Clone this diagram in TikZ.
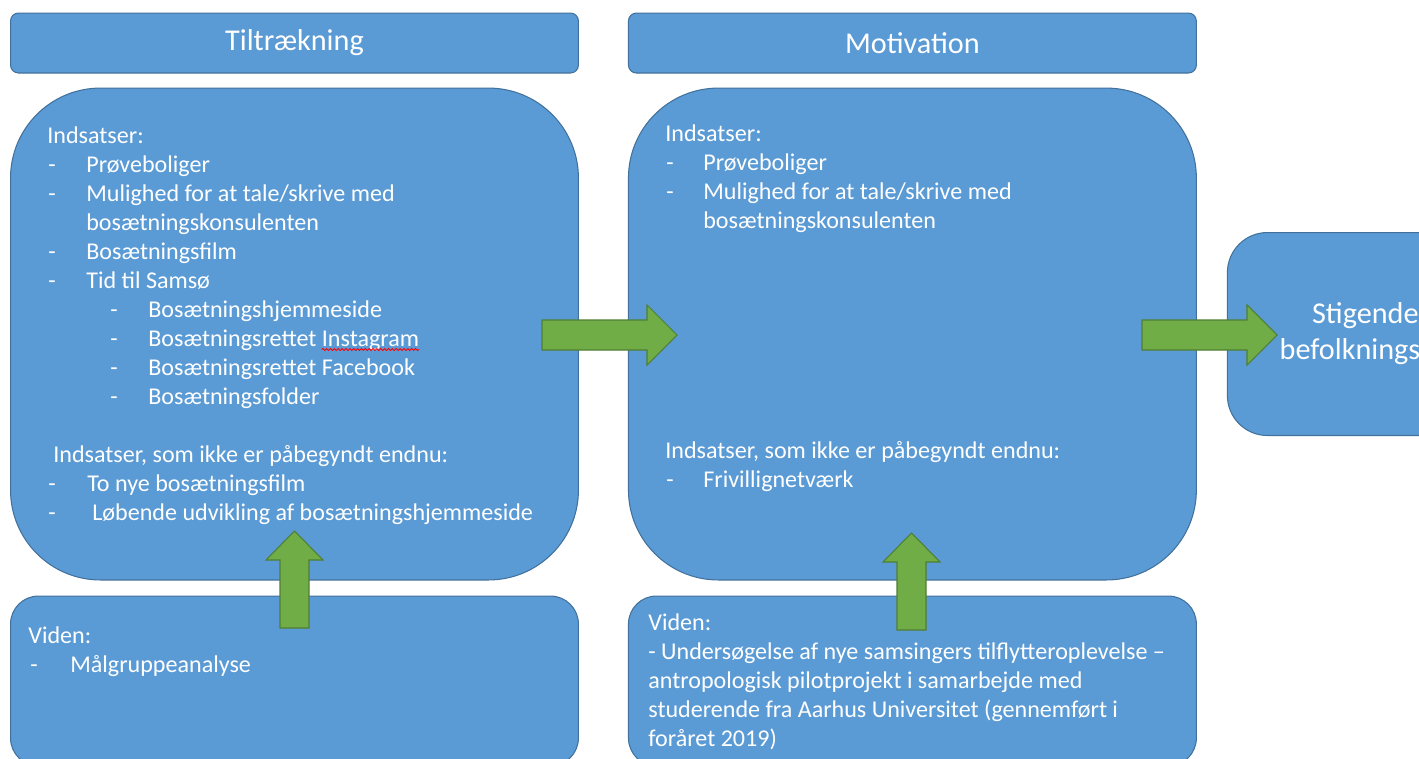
\documentclass[tikz,border=0pt]{standalone}
\usepackage{fontspec}
\setmainfont{Carlito}
\usetikzlibrary{positioning, decorations.pathmorphing}

\definecolor{boxblue}{HTML}{5B9BD5}
\definecolor{boxedge}{HTML}{41719C}
\definecolor{arrowgreen}{HTML}{70AD47}
\definecolor{arrowedge}{HTML}{507E32}

\begin{document}
\begin{tikzpicture}[x=0.02cm, y=-0.02cm,
    box/.style={draw=boxedge, fill=boxblue, line width=0.6pt, text=white, inner sep=0pt},
    headbox/.style={box, rounded corners=0.16cm, minimum width=11.36cm, minimum height=1.2cm, font=\fontsize{17.2}{20.4}\selectfont},
    bigbox/.style={box, rounded corners=1.8cm, minimum width=11.36cm, minimum height=9.84cm},
    infobox/.style={box, rounded corners=0.56cm, minimum width=11.36cm, minimum height=3.4cm},
    txt/.style={anchor=base west, inner sep=0pt, text=white, font=\fontsize{13.7}{16.4}\selectfont},
    blockarrow/.style={draw=arrowedge, fill=arrowgreen, line width=0.6pt}]

    \useasboundingbox (0,0) rectangle (1419,758);
    \clip (0,0) rectangle (1419,758);
    \fill[white] (0,0) rectangle (1419,758);

    % columns
    \node[headbox, anchor=north west] (tilt) at (10,12.5) {Tiltrækning};
    \node[bigbox, below=0.28cm of tilt] (tiltind) {};
    \node[infobox, below=0.3cm of tiltind] (tiltvid) {};
    \node[headbox, right=0.98cm of tilt] (moti) {Motivation};
    \node[bigbox, below=0.28cm of moti] (motiind) {};
    \node[infobox, below=0.3cm of motiind] (motivid) {};
    \node[box, rounded corners=0.8cm, minimum width=5.52cm, minimum height=4.06cm, align=center,
          font=\fontsize{17.2}{20.4}\selectfont, right=0.6cm of motiind] (stig) {Stigende\\befolkningstal};

    % Tiltraekning
    \foreach \x/\y/\t [count=\i] in {47/143/Indsatser:, 86/172/Prøveboliger,
        86/201/{Mulighed for at tale/skrive med}, 86/230/bosætningskonsulenten,
        86/259/Bosætningsfilm, 86/288/Tid til Samsø,
        148/317/Bosætningshjemmeside, 148/346/Bosætningsrettet Instagram,
        148/375/Bosætningsrettet Facebook, 148/404/Bosætningsfolder,
        53/462/{Indsatser, som ikke er påbegyndt endnu:},
        87/491/To nye bosætningsfilm, 92/520/Løbende udvikling af bosætningshjemmeside}
        \node[txt] (tl\i) at (\x,\y) {\t};
    \foreach \x/\y [count=\i] in {48/172, 48/201, 48/259, 48/288, 110/317, 110/346,
        110/375, 110/404, 48/491, 48/520}
        \node[txt] (tld\i) at (\x,\y) {-};
    \node[txt, anchor=base east] (insta) at (tl8.base east) {\phantom{Instagram}};
    \draw[red, line width=0.5pt, decorate, decoration={snake, amplitude=0.55pt, segment length=2.2pt}]
        ([yshift=-2pt]insta.base west) -- ([yshift=-2pt]insta.base east);

    \node[txt] (tv1) at (28,643) {Viden:};
    \node[txt] (tvd1) at (30,672) {-};
    \node[txt] (tv2) at (70,672) {Målgruppeanalyse};

    % Motivation
    \foreach \x/\y/\t [count=\i] in {665/141/Indsatser:, 703/170/Prøveboliger,
        703/199/{Mulighed for at tale/skrive med}, 703/228/bosætningskonsulenten,
        665/458/{Indsatser, som ikke er påbegyndt endnu:}, 703/487/Frivillignetværk}
        \node[txt] (ml\i) at (\x,\y) {\t};
    \foreach \x/\y [count=\i] in {666/170, 666/199, 666/487}
        \node[txt] (mld\i) at (\x,\y) {-};

    \foreach \y/\t [count=\i] in {630/Viden:,
        659/{- Undersøgelse af nye samsingers tilflytteroplevelse –},
        688/antropologisk pilotprojekt i samarbejde med,
        717/{studerende fra Aarhus Universitet (gennemført i},
        746/foråret 2019)}
        \node[txt] (mv\i) at (648,\y) {\t};

    % arrows
    \draw[blockarrow] (542,320) -- (647,320) -- (647,305) -- (677,335) -- (647,365) -- (647,350) -- (542,350) -- cycle;
    \draw[blockarrow] (1142,320) -- (1247,320) -- (1247,305) -- (1277,335) -- (1247,365) -- (1247,350) -- (1142,350) -- cycle;
    \draw[blockarrow] (280,628) -- (280,560) -- (266,560) -- (294.5,531) -- (323,560) -- (309,560) -- (309,628) -- cycle;
    \draw[blockarrow] (897,630) -- (897,562) -- (883,562) -- (911.5,533) -- (940,562) -- (926,562) -- (926,630) -- cycle;
\end{tikzpicture}
\end{document}
